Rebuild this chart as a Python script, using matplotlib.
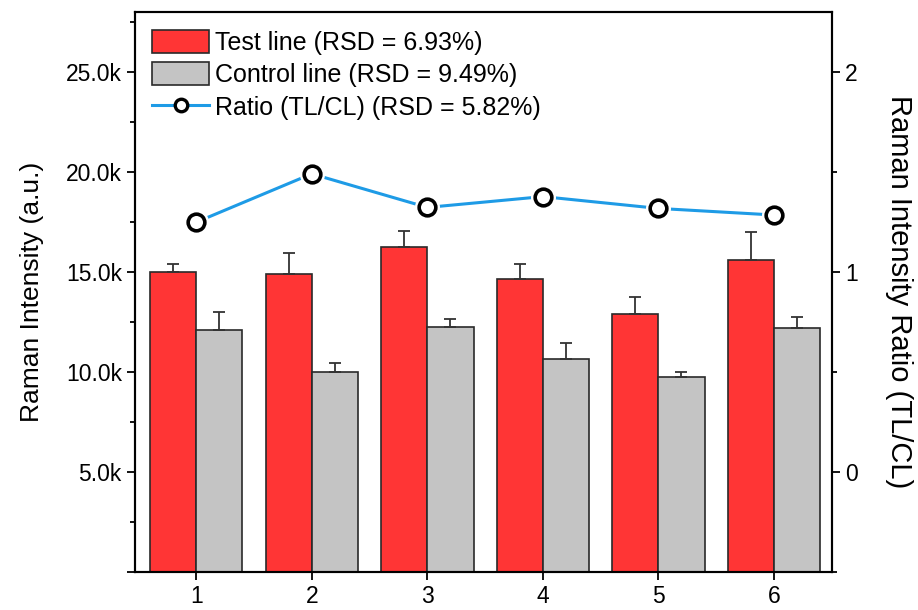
import numpy as np
import matplotlib.pyplot as plt
from matplotlib.lines import Line2D
from matplotlib.ticker import FuncFormatter, MultipleLocator

plt.rcParams.update(
    {
        "font.family": ["Liberation Sans", "DejaVu Sans"],
        "xtick.labelsize": 16.5,
        "ytick.labelsize": 16.5,
        "legend.fontsize": 18,
    }
)

# --- Data ---
samples = [1, 2, 3, 4, 5, 6]
test_line = [15015, 14900, 16250, 14635, 12900, 15600]
test_err = [370, 1035, 800, 765, 865, 1415]
control_line = [12085, 10000, 12265, 10635, 9765, 12185]
control_err = [915, 465, 400, 800, 250, 565]
ratio = [1.249, 1.491, 1.323, 1.377, 1.318, 1.285]

x = np.array(samples)
w = 0.4

fig = plt.figure(figsize=(9.18, 6.1), dpi=100)
ax = fig.add_axes([0.147, 0.0623, 0.759, 0.918])

edge = "#2a2a2a"
ax.bar(
    x - w / 2, test_line, w, color="#ff3535", edgecolor=edge, linewidth=1.2,
    label="Test line (RSD = 6.93%)", zorder=2,
)
ax.bar(
    x + w / 2, control_line, w, color="#c4c4c4", edgecolor=edge, linewidth=1.2,
    label="Control line (RSD = 9.49%)", zorder=2,
)
ax.errorbar(
    x - w / 2, test_line, yerr=[np.zeros(6), test_err], fmt="none",
    ecolor="#333333", elinewidth=1.3, capsize=4, capthick=1.3, zorder=3,
)
ax.errorbar(
    x + w / 2, control_line, yerr=[np.zeros(6), control_err], fmt="none",
    ecolor="#333333", elinewidth=1.3, capsize=4, capthick=1.3, zorder=3,
)

ax.set_xlim(0.47, 6.5)
ax.set_ylim(0, 28000)
ax.set_xticks(samples)
ax.yaxis.set_major_locator(MultipleLocator(5000))
ax.yaxis.set_minor_locator(MultipleLocator(2500))
ax.yaxis.set_major_formatter(
    FuncFormatter(lambda v, p: "" if v == 0 else f"{v / 1000:.1f}k")
)
ax.set_ylabel("Raman Intensity (a.u.)", fontsize=19, labelpad=16)
ax.tick_params(axis="both", which="major", direction="out", length=6, width=1.3)
ax.tick_params(axis="y", which="minor", direction="out", length=3.5, width=1.3)
for s in ax.spines.values():
    s.set_linewidth(1.5)

# Ratio on right axis
ax2 = ax.twinx()
ax2.set_ylim(-0.5, 2.3)
ax2.plot(x, ratio, "-", color="#1e9be6", linewidth=2.2, zorder=1)
ax2.plot(x, ratio, "o", markersize=15, markerfacecolor="white",
         markeredgecolor="white", markeredgewidth=3, linestyle="none", zorder=2)
ax2.plot(x, ratio, "o", markersize=12, markerfacecolor="white",
         markeredgecolor="black", markeredgewidth=2.6, linestyle="none", zorder=3)
ax2.yaxis.set_minor_locator(MultipleLocator(0.5))
ax2.set_yticks([0, 1, 2])
ax2.set_ylabel("Raman Intensity Ratio (TL/CL)", fontsize=21, rotation=270,
               labelpad=40)
ax2.tick_params(axis="y", which="major", direction="out", length=6, width=1.3)
ax2.tick_params(axis="y", which="minor", direction="out", length=3.5, width=1.3)
for s in ax2.spines.values():
    s.set_linewidth(1.5)

# Legend
h, l = ax.get_legend_handles_labels()
h.append(Line2D([], [], color="#1e9be6", linewidth=2.2, marker="o", markersize=9,
                markerfacecolor="white", markeredgecolor="black", markeredgewidth=2.4))
l.append("Ratio (TL/CL) (RSD = 5.82%)")
ax.legend(h, l, loc="upper left", frameon=False, handlelength=2.25,
          handleheight=1.05, handletextpad=0.25, labelspacing=0.3,
          borderaxespad=0.4, borderpad=0.3)

plt.savefig("out.png", dpi=100)
